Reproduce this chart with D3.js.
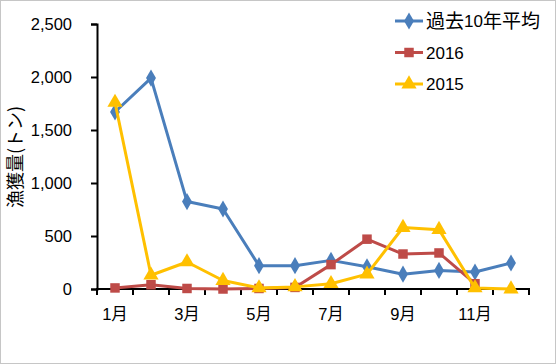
<!DOCTYPE html>
<html><head><meta charset="utf-8">
<script src="https://cdn.jsdelivr.net/npm/d3@7"></script>
<style>body{margin:0;background:#fff}svg{display:block}</style>
</head><body><svg id="c" width="556" height="364"></svg>
<script>
const months = ["1月","2月","3月","4月","5月","6月","7月","8月","9月","10月","11月","12月"];
const tickLabels = ["1月","3月","5月","7月","9月","11月"];
const yTicks = [0,500,1000,1500,2000,2500];
const avg10 = [1670,1990,825,755,220,220,270,210,140,175,160,245];
const y2016 = [10,40,5,0,5,15,230,470,330,340,50,null];
const y2015 = [1760,130,255,80,10,20,50,140,580,560,10,0];
const seriesNames = ["過去10年平均","2016","2015"];

(function(){
const font = "'Liberation Sans','Noto Sans CJK JP',sans-serif";
const svg = d3.select("#c");
svg.append("rect").attr("x",0.5).attr("y",0.5).attr("width",555).attr("height",363)
  .attr("fill","#fff").attr("stroke","#8c8c8c").attr("stroke-dasharray","1,1");

const pL=97, pR=529, pT=24, pB=289;
const x = d3.scaleBand().domain(months).range([pL,pR]);
const y = d3.scaleLinear().domain([0,2500]).range([pB,pT]);

const ya = svg.append("g").attr("transform",`translate(${pL},0)`)
  .call(d3.axisLeft(y).tickValues(yTicks).tickFormat(d3.format(",")).tickSizeOuter(0).tickSize(6).tickPadding(19));
ya.select(".domain").attr("stroke","#000").attr("stroke-width",2);
ya.selectAll(".tick line").attr("stroke","#000").attr("stroke-width",2);
ya.selectAll("text").attr("font-family",font).attr("font-size",16.5).attr("fill","#000");

const xa = svg.append("g").attr("transform",`translate(0,${pB})`)
  .call(d3.axisBottom(x).tickSize(0).tickFormat(d=>tickLabels.includes(d)?d:"").tickPadding(19));
xa.select(".domain").attr("stroke","#000").attr("stroke-width",2).attr("d",`M${pL-1},0H${pR+1}`);
xa.selectAll("text").attr("font-family",font).attr("font-size",16.5).attr("fill","#000");
const bounds = months.map(m=>x(m)).concat([pR]);
svg.append("g").selectAll("line").data(bounds).join("line")
  .attr("x1",d=>d).attr("x2",d=>d).attr("y1",pB).attr("y2",pB+6)
  .attr("stroke","#000").attr("stroke-width",2);

svg.append("text").attr("transform","translate(14,157) rotate(-90)")
  .attr("text-anchor","middle").attr("dominant-baseline","central")
  .attr("font-family","'Noto Sans CJK JP',sans-serif").attr("font-size",18).text("漁獲量(トン)");

const cx = m=>x(m)+x.bandwidth()/2;
const colors = ["#4A7EBB","#BE4B48","#FFC000"];
const data = [avg10,y2016,y2015];
const symbols = [d3.symbolDiamond, d3.symbolSquare, d3.symbolTriangle];
const sizes = [85,90,100];

data.forEach((vals,i)=>{
  const pts = vals.map((v,j)=>({m:months[j],v})).filter(p=>p.v!==null);
  svg.append("path").datum(pts)
    .attr("d",d3.line().x(p=>cx(p.m)).y(p=>y(p.v)))
    .attr("fill","none").attr("stroke",colors[i]).attr("stroke-width",3).attr("stroke-linejoin","round");
  svg.append("g").selectAll("path").data(pts).join("path")
    .attr("transform",p=>`translate(${cx(p.m)},${y(p.v)})`)
    .attr("d",d3.symbol().type(symbols[i]).size(sizes[i]))
    .attr("fill",colors[i]);
});

const lg = svg.append("g");
seriesNames.forEach((n,i)=>{
  const yy = 21 + i*31.5;
  lg.append("line").attr("x1",395).attr("x2",423).attr("y1",yy).attr("y2",yy)
    .attr("stroke",colors[i]).attr("stroke-width",3);
  lg.append("path").attr("transform",`translate(409,${yy})`)
    .attr("d",d3.symbol().type(symbols[i]).size(sizes[i])).attr("fill",colors[i]);
  const t = lg.append("text").attr("x",426).attr("y",yy).attr("dominant-baseline","central")
    .attr("font-family",font).attr("font-size",17);
  n.split(/(\d+)/).filter(s=>s).forEach(s=>{
    t.append("tspan").attr("font-size",/\d/.test(s)?17:19).text(s);
  });
});
})();
</script></body></html>
